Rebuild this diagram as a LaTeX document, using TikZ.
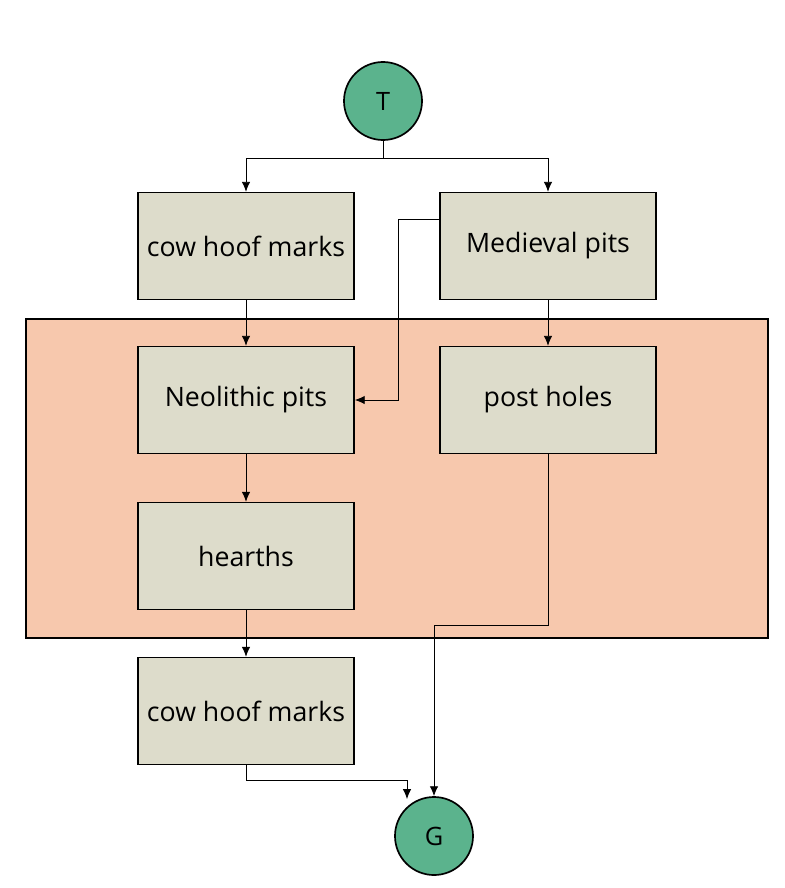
\documentclass[tikz,border=0pt]{standalone}
\usepackage{fontspec}
\setmainfont{Open Sans}
\usetikzlibrary{arrows.meta, positioning, calc}
\definecolor{boxfill}{HTML}{DDDCCB}
\definecolor{termfill}{HTML}{5BB38D}
\definecolor{zonefill}{HTML}{F7C8AD}
\tikzset{
    unit/.style={draw, line width=1.2pt, fill=boxfill, minimum width=5.4cm, minimum height=2.67cm, inner sep=1pt, font=\fontsize{19}{22}\selectfont},
    term/.style={draw, circle, line width=1.2pt, fill=termfill, minimum size=1.95cm, font=\fontsize{18}{22}\selectfont},
    link/.style={-{Latex[length=7pt,width=6pt]}, semithick}
}
\begin{document}
\begin{tikzpicture}[x=0.025cm, y=-0.025cm]
    \useasboundingbox (0,0) rectangle (784,888);

    % Zone behind the middle units
    \draw[line width=1.2pt, fill=zonefill] (26,319) rectangle (768,638);

    % Terminals
    \node[term] (top) at (383,101) {T};
    \node[term] (bot) at (434,836) {G};

    % Units
    \node[unit] (cowA) at (246,246) {cow hoof marks};
    \node[unit] (med)  at (548,246) {Medieval pits};
    \node[unit] (neo)  at (246,400) {Neolithic pits};
    \node[unit] (post) at (548,400) {post holes};
    \node[unit] (hea)  at (246,556) {hearths};
    \node[unit] (cowB) at (246,711) {cow hoof marks};

    % Connectors
    \coordinate (split) at (383,158);
    \draw[semithick] (top) -- (split);
    \draw[link] (split) -| (cowA);
    \draw[link] (split) -| (med);
    \draw[link] (cowA) -- (neo);
    \draw[link] (med) -- (post);
    \draw[link] (neo) -- (hea);
    \draw[link] (hea) -- (cowB);
    \draw[link] ($(med.west)+(0,-27)$) -- (398,219) |- (neo.east);
    \draw[link] (post.south) -- (548,625) -| (bot.north);
    \draw[link] (cowB.south) -- (246,780) -| (407,799);
\end{tikzpicture}
\end{document}
